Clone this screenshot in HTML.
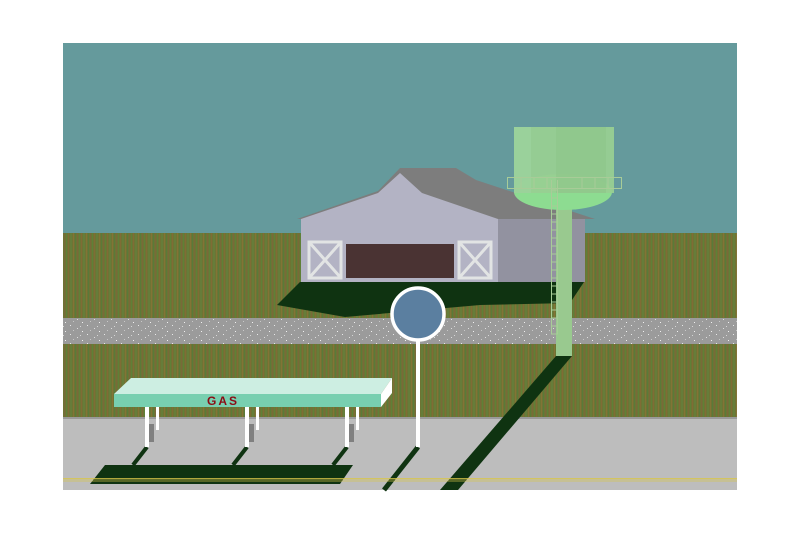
<!DOCTYPE html>
<html><head><meta charset="utf-8"><style>html,body{margin:0;padding:0;background:#fff;width:800px;height:533px;overflow:hidden}</style></head>
<body>
<svg width="800" height="533" viewBox="0 0 800 533" xmlns="http://www.w3.org/2000/svg">
<defs>
<pattern id="grass" x="0" y="0" width="13" height="10" patternUnits="userSpaceOnUse">
<rect width="13" height="10" fill="#6e7434"/>
<rect x="1" width="1" height="10" fill="#5f8038"/>
<rect x="3" width="1" height="10" fill="#806c36"/>
<rect x="5" width="2" height="10" fill="#667d3a"/>
<rect x="8" width="1" height="10" fill="#837436"/>
<rect x="10" width="1" height="10" fill="#5a7a3a"/>
<rect x="12" width="1" height="10" fill="#786a3a"/>
</pattern>
<pattern id="gravel" x="0" y="0" width="17" height="9" patternUnits="userSpaceOnUse">
<rect width="17" height="9" fill="#9b9b9b"/>
<rect x="2" y="1" width="1" height="1" fill="#e8e8e8"/>
<rect x="9" y="4" width="1" height="1" fill="#ddd"/>
<rect x="14" y="7" width="1" height="1" fill="#f0f0f0"/>
<rect x="5" y="6" width="1" height="1" fill="#c8c8c8"/>
<rect x="12" y="2" width="1" height="1" fill="#d5d5d5"/>
</pattern>
</defs>
<rect x="63" y="43" width="674" height="447" fill="#659a9c"/>
<rect x="63" y="233" width="674" height="86" fill="url(#grass)"/>
<rect x="63" y="318" width="674" height="28" fill="url(#gravel)"/>
<rect x="63" y="344" width="674" height="73" fill="url(#grass)"/>
<rect x="63" y="417" width="674" height="73" fill="#bdbdbd"/>
<rect x="63" y="417" width="674" height="2" fill="#9a9a9a"/>
<!-- barn shadow -->
<polygon points="300,282 584,282 570,303 480,305 345,317 277,305" fill="#0f3311"/>
<polygon points="297,219 378,191 400,168 456,168 476,180 595,219" fill="#7d7d7d"/>
<polygon points="498,219 585,219 585,282 498,282" fill="#9292a0"/>
<polygon points="301,219 378,193 400,173 422,193 498,219 498,282 301,282" fill="#b3b3c4"/>
<rect x="346" y="244" width="108" height="34" fill="#4a3333"/>
<g fill="none" stroke="#e2e4e4" stroke-width="3">
<rect x="309" y="242" width="32" height="36"/>
<path d="M309,242 L341,278 M341,242 L309,278"/>
<rect x="459" y="242" width="32" height="36"/>
<path d="M459,242 L491,278 M491,242 L459,278"/>
</g>
<!-- water tower -->
<polygon points="556,356 572,356 458,490 440,490" fill="#0f3311"/>
<rect x="556" y="193" width="16" height="163" fill="#99c98f"/>
<ellipse cx="563" cy="192" rx="49" ry="18" fill="#8ddc91"/>
<rect x="514" y="127" width="100" height="66" fill="#98cf92" opacity="0.95"/>
<rect x="514" y="127" width="17" height="66" fill="#9fd3a0" opacity="0.6"/>
<rect x="556" y="127" width="50" height="66" fill="#8dc588" opacity="0.6"/>
<rect x="507.5" y="177.5" width="114" height="11" fill="none" stroke="#a8cc98" stroke-width="1"/>
<g stroke="#a8cc98" stroke-width="1">
<path d="M521,178v10M534,178v10M547,178v10M582,178v10M595,178v10M608,178v10"/>
<path d="M551.5,180V334M557.5,180V334"/>
<path d="M551,190h7M551,198h7M551,206h7M551,214h7M551,222h7M551,230h7M551,238h7M551,246h7M551,254h7M551,262h7M551,270h7M551,278h7M551,286h7M551,294h7M551,302h7M551,310h7M551,318h7M551,326h7M551,334h7"/>
</g>
<!-- sign -->
<line x1="418" y1="447" x2="384" y2="490" stroke="#0f3311" stroke-width="5"/>
<rect x="416" y="340" width="4" height="107" fill="#fff"/>
<circle cx="418" cy="314" r="26" fill="#5b7fa0" stroke="#fff" stroke-width="3.5"/>
<!-- gas station shadows -->
<polygon points="90,484 105,465 353,465 340,484" fill="#0f3311"/>
<g stroke="#0f3311" stroke-width="4">
<line x1="147" y1="447" x2="133" y2="465"/>
<line x1="247" y1="447" x2="233" y2="465"/>
<line x1="347" y1="447" x2="333" y2="465"/>
</g>
<rect x="63" y="478" width="674" height="1.5" fill="#d8c64a" opacity="0.8"/>
<rect x="63" y="480.5" width="674" height="1" fill="#d8c64a" opacity="0.7"/>
<g>
<rect x="156" y="407" width="3" height="23" fill="#fff"/>
<rect x="149" y="424" width="5" height="18" fill="#808080"/>
<rect x="145" y="407" width="4" height="40" fill="#fff"/>
<rect x="256" y="407" width="3" height="23" fill="#fff"/>
<rect x="249" y="424" width="5" height="18" fill="#808080"/>
<rect x="245" y="407" width="4" height="40" fill="#fff"/>
<rect x="356" y="407" width="3" height="23" fill="#fff"/>
<rect x="349" y="424" width="5" height="18" fill="#808080"/>
<rect x="345" y="407" width="4" height="40" fill="#fff"/>
</g>
<polygon points="114,394 131,378 392,378 381,394" fill="#cdeee2"/>
<rect x="114" y="394" width="267" height="13" fill="#78cfb0"/>
<polygon points="381,394 392,378 392,393 381,407" fill="#fff"/>
<text x="223" y="405" text-anchor="middle" font-family="Liberation Sans, sans-serif" font-weight="bold" font-size="12" fill="#8b0b14" letter-spacing="2">GAS</text>
</svg>
</body></html>
